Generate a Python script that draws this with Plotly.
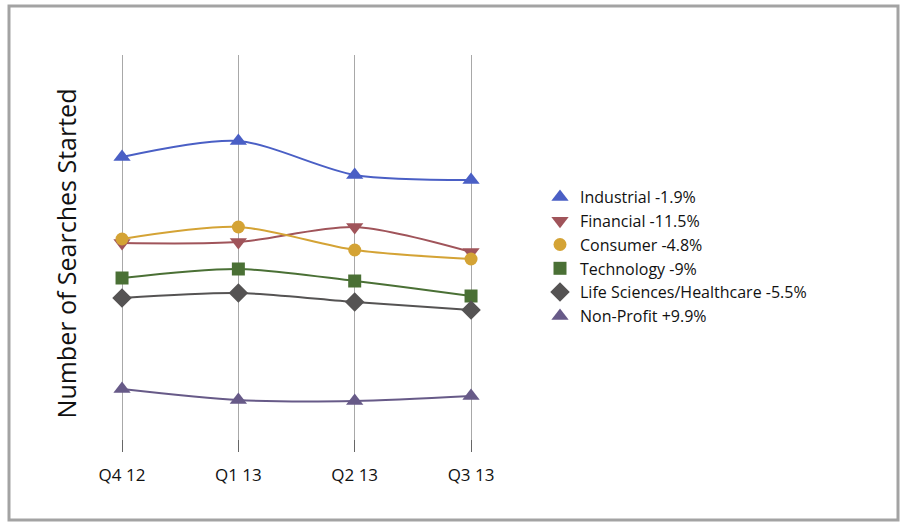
import plotly.graph_objects as go

quarters = ["Q4 12", "Q1 13", "Q2 13", "Q3 13"]

industrial = [295, 311, 277, 272]
financial = [209, 210, 225, 200]
consumer = [213, 225, 202, 193]
technology = [174, 183, 171, 156]
life_sciences = [154, 159, 150, 142]
non_profit = [63, 52, 51, 56]

series_names = [
    "Industrial -1.9%",
    "Financial -11.5%",
    "Consumer -4.8%",
    "Technology -9%",
    "Life Sciences/Healthcare -5.5%",
    "Non-Profit +9.9%",
]
series_values = [industrial, financial, consumer, technology, life_sciences, non_profit]
colors = ["#4A5FC5", "#A0545A", "#D4A335", "#4A7035", "#555353", "#675A88"]
symbols = ["triangle-up", "triangle-down", "circle", "square", "diamond", "triangle-up"]
sizes = [15, 15, 13, 13, 15, 15]

fig = go.Figure()
for i, (name, vals, c, s, sz) in enumerate(zip(series_names, series_values, colors, symbols, sizes)):
    fig.add_trace(go.Scatter(
        x=quarters, y=vals, name=name, mode="lines+markers",
        legendgroup=f"g{i}", showlegend=False,
        line=dict(color=c, width=2, shape="spline", smoothing=0.8),
        marker=dict(symbol=s, size=sz, color=c),
    ))
    # legend entry showing the marker only, as in the reference
    fig.add_trace(go.Scatter(
        x=[None], y=[None], name=name, mode="markers",
        legendgroup=f"g{i}", showlegend=True,
        marker=dict(symbol=s, size=sz, color=c),
    ))

W, H = 904, 523
L, R, T, B = 104, 414, 55, 71
pw, ph = W - L - R, H - T - B

def px_x(p):
    return (p - L) / pw

def px_y(p):
    return (H - B - p) / ph

fig.update_layout(
    width=W, height=H,
    margin=dict(l=L, r=R, t=T, b=B),
    paper_bgcolor="white", plot_bgcolor="white",
    font=dict(family="Open Sans, sans-serif", color="#111111"),
    showlegend=True,
    legend=dict(
        x=px_x(540), y=px_y(180), xanchor="left", yanchor="top",
        font=dict(size=16, color="#111111"),
        tracegroupgap=0, itemsizing="trace",
        bgcolor="rgba(0,0,0,0)",
    ),
    xaxis=dict(
        range=[-0.155, 3.163], showgrid=True, gridcolor="#a8a8a8", gridwidth=1,
        zeroline=False, showline=False,
        ticks="inside", ticklen=12, tickcolor="#666666",
        tickfont=dict(size=17, color="#111111"),
        ticklabelstandoff=11,
        fixedrange=True,
    ),
    yaxis=dict(
        range=[0, 397], showgrid=False, zeroline=False, showline=False,
        showticklabels=False, ticks="",
        title=dict(text="Number of Searches Started", font=dict(size=25, color="#111111"), standoff=19),
        fixedrange=True,
    ),
    shapes=[dict(
        type="rect", xref="paper", yref="paper",
        x0=px_x(9), x1=px_x(898), y0=px_y(520), y1=px_y(6),
        line=dict(color="#a3a3a3", width=3), fillcolor="rgba(0,0,0,0)", layer="below",
    )],
)

fig.write_html("out.html")
